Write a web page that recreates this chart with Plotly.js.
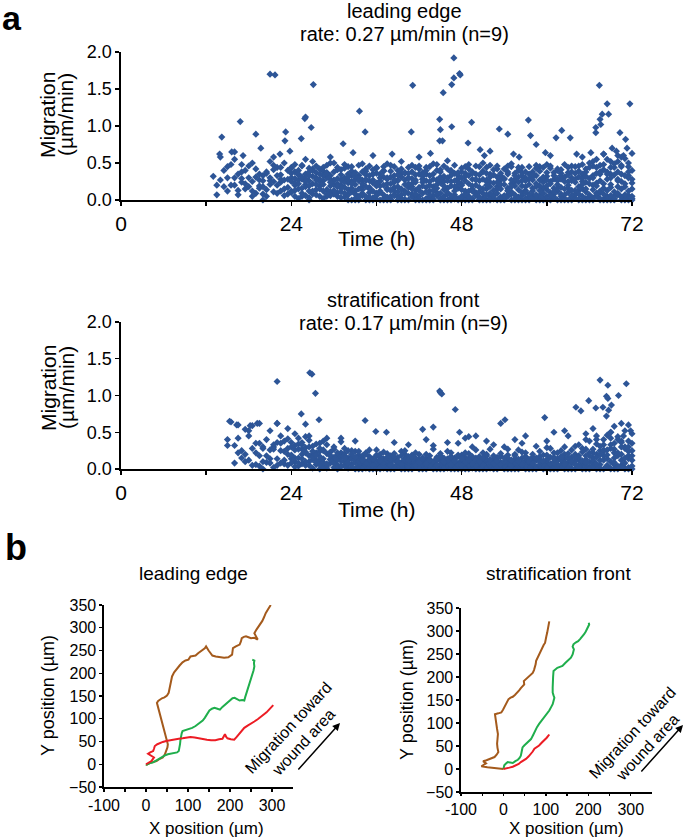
<!DOCTYPE html>
<html><head><meta charset="utf-8">
<script src="https://cdn.plot.ly/plotly-3.0.1.min.js"></script>
<style>html,body{margin:0;padding:0;background:#fff}#chart{width:685px;height:840px}</style>
</head><body><div id="chart"></div>
<script>
// ---------- panel a: time grid (h) ----------
const hours = [13,13.5,14,14.5,15,15.5,16,16.5,17,17.5,
18,18.5,19,19.5,20,20.5,21,21.5,22,22.5,
23,23.5,24,24.5,25,25.5,26,26.5,27,27.5,
28,28.5,29,29.5,30,30.5,31,31.5,32,32.5,
33,33.5,34,34.5,35,35.5,36,36.5,37,37.5,
38,38.5,39,39.5,40,40.5,41,41.5,42,42.5,
43,43.5,44,44.5,45,45.5,46,46.5,47,47.5,
48,48.5,49,49.5,50,50.5,51,51.5,52,52.5,
53,53.5,54,54.5,55,55.5,56,56.5,57,57.5,
58,58.5,59,59.5,60,60.5,61,61.5,62,62.5,
63,63.5,64,64.5,65,65.5,66,66.5,67,67.5,
68,68.5,69,69.5,70,70.5,71,71.5,72];

// leading edge migration (um/min), one row per tracked cell
const lead1 = [0.32,0.07,0.58,0.40,0.45,0.20,0.65,0.35,0.48,0.22,
0.30,0.12,0.42,0.27,0.18,0.38,0.52,0.25,0.33,0.44,
0.15,0.28,0.36,0.48,0.22,0.31,0.55,0.19,0.42,0.27,
0.35,0.12,0.47,0.24,0.38,0.29,0.16,0.43,0.31,0.22,
0.37,0.26,0.49,0.18,0.33,0.41,0.23,0.30,0.45,0.14,
0.39,0.27,0.34,0.52,0.21,0.36,0.29,0.44,0.17,0.32,
0.40,0.25,0.35,0.48,0.28,0.19,0.42,0.33,0.26,0.37,
0.30,0.45,0.22,0.38,0.27,0.34,0.50,0.20,0.31,0.41,
0.24,0.36,0.29,0.46,0.18,0.33,0.40,0.26,0.38,0.21,
0.35,0.43,0.27,0.31,0.48,0.22,0.37,0.29,0.41,0.25,
0.34,0.46,0.28,0.39,0.21,0.32,0.44,0.52,0.36,0.47,
0.41,0.55,0.30,0.49,0.38,0.58,0.33,0.45,0.40];
const lead2 = [null,0.20,0.27,null,0.30,0.48,0.20,0.07,0.29,0.40,
0.18,0.25,0.09,0.35,0.26,0.14,0.30,0.41,0.20,0.12,
0.27,0.40,0.10,0.23,0.34,0.16,0.29,0.38,0.12,0.21,
0.25,0.33,0.08,0.19,0.27,0.44,0.11,0.24,0.35,0.16,
0.21,0.30,0.09,0.26,0.15,0.23,0.36,0.12,0.20,0.28,
0.13,0.24,0.18,0.31,0.09,0.22,0.15,0.27,0.35,0.19,
0.11,0.20,0.28,0.16,0.23,0.32,0.10,0.25,0.18,0.21,
0.14,0.26,0.33,0.12,0.20,0.17,0.28,0.36,0.09,0.23,
0.31,0.15,0.21,0.12,0.27,0.19,0.24,0.33,0.10,0.28,
0.16,0.22,0.13,0.30,0.19,0.25,0.11,0.21,0.17,0.31,
0.20,0.13,0.24,0.18,0.29,0.15,0.22,0.30,0.19,0.26,
0.16,0.28,0.21,0.34,0.18,0.25,0.22,0.30,0.15];
const lead3 = [null,null,null,null,0.12,null,0.55,0.13,0.38,0.15,
0.46,0.05,0.31,0.19,0.08,0.36,0.21,0.11,0.44,0.28,
0.06,0.17,0.25,0.13,0.40,0.09,0.18,0.26,0.32,0.07,
0.15,0.21,0.30,0.06,0.13,0.18,0.27,0.09,0.14,0.33,
0.08,0.15,0.22,0.05,0.17,0.12,0.19,0.25,0.07,0.16,
0.22,0.06,0.11,0.15,0.27,0.09,0.18,0.08,0.13,0.24,
0.17,0.07,0.13,0.21,0.09,0.14,0.26,0.06,0.12,0.16,
0.22,0.08,0.12,0.19,0.06,0.11,0.15,0.07,0.18,0.13,
0.09,0.21,0.06,0.16,0.11,0.07,0.14,0.10,0.18,0.08,
0.12,0.07,0.19,0.09,0.14,0.06,0.16,0.12,0.08,0.15,
0.10,0.06,0.13,0.08,0.15,0.11,0.07,0.14,0.09,0.12,
0.08,0.13,0.06,0.11,0.09,0.15,0.07,0.12,0.05];
const lead4 = [null,null,null,0.18,null,null,0.30,null,0.24,null,
null,0.50,null,0.16,0.33,0.05,0.26,0.58,0.09,0.34,
0.50,0.08,0.44,0.05,0.15,0.28,0.06,0.12,0.22,0.37,
0.05,0.26,0.14,0.33,0.08,0.05,0.20,0.30,0.07,0.11,
0.28,0.05,0.14,0.34,0.04,0.27,0.06,0.10,0.31,0.04,
0.05,0.33,0.04,0.07,0.12,0.30,0.04,0.13,0.05,0.09,
0.26,0.04,0.06,0.10,0.31,0.05,0.08,0.19,0.04,0.29,
0.05,0.12,0.05,0.28,0.10,0.04,0.09,0.25,0.04,0.06,
0.15,0.04,0.28,0.05,0.08,0.25,0.04,0.06,0.13,0.05,
0.27,0.04,0.06,0.16,0.05,0.10,0.04,0.26,0.05,0.07,
0.25,0.04,0.08,0.13,0.05,0.24,0.04,0.20,0.05,0.10,
0.22,0.05,0.17,0.05,0.26,0.04,0.18,0.06,0.23];
const lead5 = [null,null,null,null,null,null,null,null,null,null,
null,null,null,null,null,null,null,0.47,null,0.24,
null,null,0.30,0.20,0.02,0.46,0.35,0.03,0.52,0.14,
0.42,0.02,0.37,0.11,0.50,0.22,0.03,0.17,0.45,0.25,
0.02,0.33,0.18,0.42,0.26,0.03,0.44,0.35,0.02,0.22,
0.47,0.17,0.40,0.02,0.36,0.44,0.22,0.03,0.42,0.37,
0.02,0.45,0.18,0.40,0.02,0.25,0.53,0.03,0.36,0.02,
0.38,0.02,0.42,0.02,0.46,0.26,0.03,0.44,0.24,0.02,
0.42,0.27,0.02,0.38,0.45,0.02,0.31,0.44,0.02,0.35,
0.03,0.33,0.45,0.02,0.37,0.43,0.02,0.40,0.33,0.02,
0.44,0.38,0.02,0.46,0.35,0.02,0.50,0.03,0.44,0.02,
0.48,0.03,0.44,0.02,0.52,0.35,0.03,0.50,0.02];
const lead6 = [null,null,null,null,null,null,null,null,null,null,
null,null,null,null,null,null,null,null,null,null,
null,null,0.12,0.38,0.27,0.05,0.21,0.43,0.08,0.30,
0.19,0.39,0.05,0.28,0.21,0.10,0.41,0.04,0.23,0.39,
0.12,0.04,0.27,0.39,0.10,0.35,0.01,0.19,0.39,0.30,
0.01,0.12,0.26,0.36,0.01,0.17,0.38,0.24,0.01,0.28,
0.35,0.12,0.01,0.27,0.38,0.01,0.16,0.40,0.01,0.33,
0.20,0.36,0.01,0.15,0.35,0.01,0.38,0.15,0.35,0.01,
0.18,0.33,0.01,0.13,0.22,0.36,0.01,0.19,0.30,0.01,
0.38,0.18,0.01,0.24,0.32,0.01,0.28,0.16,0.36,0.01,
0.16,0.30,0.36,0.01,0.25,0.38,0.01,0.33,0.23,0.35,
0.01,0.38,0.35,0.01,0.28,0.45,0.01,0.33,0.28];
const lead7 = [null,null,null,null,null,null,null,null,null,null,
null,null,null,null,0.00,null,null,null,null,null,
null,null,null,null,null,null,null,0.00,null,null,
null,null,null,null,null,null,null,null,0.00,0.00,
0.00,0.00,0.06,0.00,0.00,0.00,0.09,0.00,0.00,0.00,
0.00,0.07,0.00,0.00,0.00,0.00,0.08,0.00,0.00,0.00,
0.00,0.00,0.00,0.06,0.00,0.00,0.00,0.00,0.07,0.00,
0.00,0.00,0.00,0.00,0.08,0.00,0.00,0.00,0.00,0.06,
0.00,0.00,0.00,0.07,0.00,0.00,0.00,0.00,0.00,0.00,
0.06,0.00,0.00,0.00,0.00,0.00,0.08,0.00,0.00,0.00,
0.00,0.00,0.07,0.00,0.00,0.00,0.00,0.00,0.06,0.00,
0.00,0.00,0.00,0.00,0.07,0.00,0.00,0.00,0.00];
const lead8 = [null,null,null,null,null,null,null,null,null,null,
null,null,null,null,null,null,null,null,null,null,
null,null,0.43,0.29,0.35,0.47,0.25,0.33,0.40,0.46,
0.28,0.44,0.36,0.50,0.26,0.41,0.34,0.48,0.27,0.45,
0.32,0.47,0.38,0.28,0.46,0.35,0.43,0.26,0.40,0.49,
0.31,0.45,0.27,0.42,0.37,0.29,0.47,0.34,0.46,0.28,
0.44,0.33,0.49,0.27,0.41,0.46,0.30,0.38,0.47,0.25,
0.43,0.32,0.48,0.36,0.28,0.45,0.39,0.27,0.47,0.34,
0.46,0.30,0.42,0.35,0.49,0.28,0.44,0.37,0.26,0.45,
0.31,0.47,0.39,0.44,0.27,0.46,0.33,0.42,0.28,0.48,
0.37,0.26,0.45,0.31,0.48,0.42,0.29,0.46,0.55,0.38,
0.62,0.35,0.52,0.44,0.60,0.47,0.56,0.38,0.63];
const leadOutT = [14.2,16.8,19.0,19.7,21.0,21.7,23.1,23.2,25.4,25.9,26.0,26.8,27.1,31.3,32.7,33.6,34.4,40.9,41.1,44.9,44.9,45.0,45.3,45.4,46.6,46.6,46.9,46.9,47.7,47.8,48.9,49.4,50.6,53.3,54.5,57.4,57.7,58.5,61.3,62.1,63.3,66.9,66.9,67.4,67.5,67.6,67.8,68.5,68.7,69.2,70.3,71.1,71.3,71.7];
const leadOutV = [0.85,1.06,0.89,0.70,1.70,1.69,0.80,0.92,0.83,1.10,1.12,0.98,1.56,0.76,0.64,1.20,0.92,0.92,1.55,1.09,0.80,0.95,0.80,1.45,0.99,1.56,1.92,1.65,1.71,1.69,0.77,1.05,0.68,0.96,0.89,1.08,0.87,0.75,0.84,0.94,0.84,0.91,0.98,1.55,1.09,1.02,1.16,1.30,1.16,0.70,0.91,0.82,0.70,1.30];
const leadMidT = [13.9,15.6,17.2,22.4,23.8,29.5,35.5,38.2,42.0,43.6,51.2,52.0,55.3,56.1,59.8,60.5,64.2,65.0,66.2,68.0,69.8,70.8];
const leadMidV = [0.62,0.65,0.60,0.62,0.66,0.58,0.60,0.62,0.58,0.63,0.60,0.66,0.62,0.58,0.64,0.60,0.62,0.58,0.64,0.62,0.66,0.60];

// stratification front migration (um/min)
const strat1 = [null,null,null,null,0.40,0.64,0.32,0.60,0.25,0.54,
0.45,0.59,0.22,0.62,0.30,0.18,0.52,0.27,0.62,0.35,
0.24,0.41,0.30,0.48,0.27,0.36,0.22,0.45,0.31,0.19,
0.35,0.26,0.42,0.18,0.30,0.22,0.37,0.15,0.25,0.20,
0.16,0.24,0.12,0.20,0.26,0.14,0.19,0.11,0.23,0.16,
0.13,0.21,0.10,0.18,0.25,0.12,0.17,0.22,0.09,0.15,
0.20,0.12,0.27,0.14,0.18,0.10,0.24,0.16,0.11,0.19,
0.14,0.22,0.12,0.17,0.26,0.10,0.15,0.20,0.13,0.18,
0.11,0.21,0.15,0.27,0.12,0.18,0.10,0.23,0.16,0.13,
0.20,0.15,0.24,0.11,0.19,0.28,0.14,0.22,0.17,0.30,
0.21,0.26,0.16,0.33,0.23,0.18,0.38,0.27,0.45,0.31,
0.40,0.26,0.50,0.35,0.44,0.30,0.52,0.38,0.48];
const strat2 = [null,null,null,null,0.32,null,0.08,0.42,0.15,0.20,
0.12,0.28,0.06,0.18,0.10,0.40,0.08,0.33,0.14,0.25,
0.12,0.20,0.08,0.26,0.15,0.33,0.10,0.18,0.24,0.12,
0.17,0.09,0.21,0.13,0.08,0.16,0.11,0.21,0.07,0.14,
0.09,0.07,0.15,0.10,0.06,0.13,0.08,0.17,0.05,0.10,
0.07,0.12,0.06,0.09,0.14,0.05,0.11,0.07,0.13,0.06,
0.10,0.05,0.08,0.12,0.06,0.15,0.07,0.09,0.13,0.05,
0.08,0.11,0.06,0.09,0.05,0.13,0.07,0.10,0.06,0.12,
0.06,0.09,0.05,0.11,0.07,0.13,0.06,0.09,0.05,0.10,
0.07,0.12,0.06,0.09,0.13,0.07,0.10,0.06,0.12,0.08,
0.14,0.08,0.11,0.18,0.09,0.13,0.22,0.10,0.16,0.25,
0.12,0.19,0.28,0.15,0.22,0.12,0.30,0.18,0.25];
const strat3 = [null,null,null,null,null,null,null,0.22,null,0.10,
0.52,null,0.35,0.04,0.28,0.09,0.26,0.02,0.36,0.08,
0.38,0.05,0.18,0.10,0.42,0.07,0.29,0.05,0.20,0.34,
0.06,0.25,0.04,0.13,0.27,0.05,0.16,0.04,0.12,0.06,
0.11,0.04,0.09,0.22,0.03,0.07,0.18,0.03,0.09,0.04,
0.18,0.03,0.08,0.04,0.20,0.03,0.06,0.15,0.03,0.08,
0.04,0.18,0.03,0.06,0.21,0.03,0.05,0.17,0.03,0.08,
0.19,0.03,0.05,0.14,0.03,0.07,0.22,0.03,0.04,0.09,
0.03,0.17,0.04,0.07,0.03,0.20,0.04,0.15,0.03,0.06,
0.16,0.03,0.05,0.19,0.03,0.06,0.22,0.03,0.05,0.14,
0.04,0.16,0.06,0.03,0.28,0.05,0.09,0.04,0.20,0.06,
0.33,0.05,0.10,0.22,0.04,0.36,0.08,0.14,0.04];
const strat4 = [null,null,null,null,null,null,null,null,null,null,
null,0.05,null,0.35,null,null,0.14,0.30,0.05,0.45,
0.07,0.28,0.14,0.03,0.34,0.20,0.05,0.39,0.13,0.06,
0.24,0.03,0.33,0.08,0.02,0.19,0.03,0.28,0.15,0.02,
0.24,0.13,0.02,0.05,0.12,0.02,0.26,0.05,0.14,0.02,
0.05,0.14,0.02,0.24,0.08,0.02,0.13,0.02,0.20,0.02,
0.14,0.02,0.32,0.02,0.11,0.02,0.14,0.02,0.07,0.35,
0.02,0.16,0.02,0.30,0.09,0.02,0.12,0.02,0.27,0.02,
0.16,0.02,0.30,0.02,0.10,0.02,0.26,0.02,0.11,0.02,
0.05,0.02,0.13,0.02,0.29,0.02,0.04,0.14,0.02,0.20,
0.02,0.11,0.31,0.02,0.07,0.40,0.02,0.22,0.02,0.12,
0.24,0.02,0.42,0.06,0.18,0.02,0.28,0.02,0.35];
const strat5 = [null,null,null,null,null,null,null,null,null,null,
null,null,null,null,null,null,null,null,null,null,
null,null,0.36,0.15,0.04,0.27,0.44,0.10,0.01,0.22,
0.12,0.38,0.01,0.18,0.09,0.01,0.22,0.10,0.01,0.17,
0.01,0.19,0.06,0.01,0.17,0.10,0.01,0.13,0.01,0.21,
0.10,0.01,0.16,0.01,0.07,0.17,0.01,0.10,0.01,0.15,
0.01,0.08,0.01,0.16,0.01,0.10,0.01,0.22,0.15,0.01,
0.11,0.01,0.21,0.01,0.15,0.01,0.09,0.18,0.01,0.14,
0.01,0.08,0.01,0.19,0.01,0.14,0.01,0.08,0.22,0.01,
0.11,0.01,0.17,0.01,0.09,0.01,0.16,0.01,0.25,0.01,
0.09,0.01,0.20,0.12,0.01,0.27,0.01,0.15,0.34,0.01,
0.18,0.46,0.01,0.27,0.01,0.38,0.01,0.24,0.12];
const strat6 = [null,null,null,null,null,null,null,null,null,null,
null,null,null,null,0.00,null,null,null,null,null,
null,null,null,null,null,null,null,null,null,null,
0.00,null,null,null,null,0.00,null,null,null,null,
0.00,0.00,0.00,0.04,0.00,0.00,0.00,0.00,0.05,0.00,
0.00,0.00,0.04,0.00,0.00,0.00,0.00,0.05,0.00,0.00,
0.00,0.04,0.00,0.00,0.00,0.00,0.05,0.00,0.00,0.00,
0.00,0.00,0.00,0.04,0.00,0.00,0.00,0.00,0.05,0.00,
0.00,0.04,0.00,0.00,0.00,0.00,0.00,0.05,0.00,0.00,
0.00,0.00,0.04,0.00,0.00,0.00,0.00,0.00,0.05,0.00,
0.00,0.00,0.00,0.04,0.00,0.00,0.00,0.05,0.00,0.00,
0.00,0.04,0.00,0.00,0.00,0.05,0.00,0.00,0.00];
const strat7 = [null,null,null,null,null,null,null,null,null,null,
null,null,null,null,null,null,null,null,null,null,
null,null,0.19,0.32,0.08,0.14,0.23,0.30,0.16,0.09,
0.28,0.14,0.07,0.23,0.16,0.12,0.05,0.18,0.09,0.25,
0.14,0.10,0.18,0.08,0.13,0.05,0.11,0.20,0.09,0.12,
0.05,0.16,0.11,0.06,0.12,0.09,0.19,0.05,0.11,0.13,
0.07,0.13,0.10,0.05,0.16,0.08,0.12,0.06,0.10,0.17,
0.05,0.09,0.14,0.07,0.12,0.17,0.05,0.13,0.10,0.07,
0.14,0.06,0.10,0.15,0.05,0.09,0.13,0.06,0.17,0.11,
0.08,0.14,0.10,0.06,0.12,0.16,0.08,0.11,0.14,0.06,
0.16,0.10,0.07,0.15,0.11,0.09,0.18,0.12,0.07,0.20,
0.26,0.14,0.33,0.09,0.40,0.20,0.15,0.30,0.18];
const stratOutT = [15.3,16.3,18.2,19.2,22.0,22.0,23.5,25.4,26.0,26.6,26.9,27.4,27.9,34.4,35.9,37.4,42.5,44.0,44.9,45.0,45.2,47.1,47.7,49.0,50.0,53.5,54.1,57.0,59.7,61.0,62.5,64.1,64.8,65.9,66.9,67.5,67.9,68.4,68.4,68.6,68.6,68.7,69.1,69.5,70.1,70.5,71.2,71.8];
const stratOutV = [0.65,0.60,0.59,0.62,1.19,0.62,0.55,0.75,0.61,1.31,1.29,1.03,0.67,0.66,0.51,0.50,0.54,0.57,1.06,1.04,1.02,0.81,0.50,0.44,0.45,0.62,0.67,0.45,0.70,0.50,0.52,0.84,0.79,0.93,0.83,1.21,0.84,0.99,0.72,1.14,0.96,0.80,0.87,0.58,1.00,0.62,1.16,0.52];
const stratMidT = [31.0,33.0,38.5,40.5,43.0,46.0,48.5,51.5,52.5,55.5,56.5,58.5,60.0,63.0,65.5,66.5,69.0,70.8,71.5,67.0];
const stratMidV = [0.42,0.38,0.36,0.33,0.40,0.36,0.42,0.38,0.33,0.40,0.35,0.31,0.38,0.45,0.48,0.55,0.50,0.45,0.60,0.40];

// ---------- panel b: trajectories (um) ----------
const leadBrownX = [0,2,10,18,25,33,40,45,48,51,52,50,48,45,42,41,39,37,34,33,31,28,26,29,33,38,44,50,54,56,58,60,62,67,73,80,87,94,101,104,106,112,118,124,130,135,140,143,146,149,153,158,166,176,186,196,201,205,206,207,214,223,226,228,233,238,244,250,258,266,262,258,263,269,273,277,281,285,291,297];
const leadBrownY = [0,-1,3,5,7,12,15,22,29,37,44,51,58,66,73,80,88,95,102,110,117,126,135,139,142,145,147,151,157,166,175,184,193,202,210,217,224,228,230,235,237,238,239,244,248,252,255,259,253,250,245,239,237,236,234,235,238,241,248,255,259,263,270,277,280,281,279,277,278,274,281,288,296,303,309,315,323,332,341,350];
const leadGreenX = [0,2,8,17,26,36,44,52,60,68,74,78,80,81,82,83,85,87,94,102,110,118,124,130,135,140,146,151,157,163,170,176,182,188,194,200,206,211,217,223,229,234,236,238,241,244,246,248,251,254,256,258,257,258,253];
const leadGreenY = [0,-1,2,4,9,15,19,22,23,24,26,29,36,44,53,62,68,73,75,77,80,84,88,91,96,102,110,118,122,124,122,120,126,131,137,142,145,146,142,140,141,140,147,153,163,172,178,184,190,197,206,215,222,228,230];
const leadRedX = [0,6,13,19,12,5,10,17,19,21,27,33,40,48,58,68,78,87,96,106,116,126,136,145,155,165,174,182,185,188,191,194,202,210,216,223,228,234,242,250,258,266,274,281,287,293,298,303];
const leadRedY = [0,3,7,15,19,23,26,29,34,40,44,47,49,51,53,55,56,57,59,60,59,57,55,54,53,53,55,56,61,66,60,57,55,54,60,67,74,80,85,89,94,99,104,109,114,120,125,130];
const stratBrownX = [0,-12,-25,-38,-52,-46,-41,-45,-48,-40,-33,-27,-21,-16,-12,-14,-15,-14,-13,-15,-17,-18,-20,-12,-5,-1,2,6,9,12,17,22,27,32,37,41,45,49,48,53,59,64,69,72,74,76,77,80,82,85,88,90,92,95,98,99,101,103,104,106,108];
const stratBrownY = [0,1,2,4,6,9,12,15,17,19,21,24,26,31,37,46,55,65,76,87,98,108,119,121,123,129,134,142,147,152,155,157,161,165,171,176,180,184,191,195,199,204,209,215,220,228,235,241,247,251,256,261,265,270,274,281,288,296,303,312,321];
const stratGreenX = [0,2,6,10,16,22,28,34,38,41,43,45,49,53,59,65,70,74,79,84,90,96,102,108,112,116,118,120,118,116,116,116,117,118,122,127,133,139,145,151,155,159,163,164,166,163,165,170,176,181,186,190,194,197,199,202,201];
const stratGreenY = [0,8,12,15,14,13,17,20,24,29,38,47,51,55,60,65,74,83,91,98,105,112,120,127,134,141,148,155,160,166,177,188,200,213,217,220,222,224,230,235,239,242,249,254,260,266,271,275,278,283,288,293,299,305,310,314,318];
const stratRedX = [0,7,14,22,30,36,41,47,53,59,65,69,73,78,84,90,96,102,108];
const stratRedY = [0,1,3,5,8,11,15,18,22,27,33,38,44,47,51,57,62,68,75];

// ---------- build ----------
const W = 685, H = 840;
const fx = x => x / W, fy = y => 1 - y / H;
const FONT = 'Liberation Sans, Arial, Helvetica, sans-serif';
const DOT = '#2d5597';

function collect(rows, extras) {
  const x = [], y = [];
  rows.forEach(r => r.forEach((v, i) => { if (v !== null) { x.push(hours[i]); y.push(v); } }));
  extras.forEach(([T, V]) => T.forEach((t, i) => { x.push(t); y.push(V[i]); }));
  return {x, y};
}
const leadPts = collect([lead7, lead6, lead5, lead4, lead3, lead2, lead8, lead1], [[leadMidT, leadMidV], [leadOutT, leadOutV]]);
const stratPts = collect([strat6, strat5, strat4, strat3, strat2, strat7, strat1], [[stratMidT, stratMidV], [stratOutT, stratOutV]]);

const dotTrace = (p, xa, ya) => ({type: 'scatter', mode: 'markers', x: p.x, y: p.y, xaxis: xa, yaxis: ya,
  cliponaxis: false, hoverinfo: 'skip',
  marker: {symbol: 'diamond', size: 5.5, color: DOT, line: {width: 0}}});
const pathTrace = (x, y, color, xa, ya) => ({type: 'scatter', mode: 'lines', x, y, xaxis: xa, yaxis: ya,
  hoverinfo: 'skip', line: {color, width: 2}});

const BROWN = '#a45a1c', GREEN = '#1fae4c', RED = '#ec1c24';
const data = [
  dotTrace(leadPts, 'x', 'y'),
  dotTrace(stratPts, 'x2', 'y2'),
  pathTrace(leadBrownX, leadBrownY, BROWN, 'x3', 'y3'),
  pathTrace(leadGreenX, leadGreenY, GREEN, 'x3', 'y3'),
  pathTrace(leadRedX, leadRedY, RED, 'x3', 'y3'),
  pathTrace(stratBrownX, stratBrownY, BROWN, 'x4', 'y4'),
  pathTrace(stratGreenX, stratGreenY, GREEN, 'x4', 'y4'),
  pathTrace(stratRedX, stratRedY, RED, 'x4', 'y4')
];

const base = {showline: true, linecolor: '#000', linewidth: 1.6, ticks: 'outside', ticklen: 4, tickwidth: 1.4,
  tickcolor: '#000', showgrid: false, zeroline: false, fixedrange: true, tickfont: {family: FONT, color: '#000'}};
const timeTicks = [0, 12, 24, 36, 48, 60, 72];
const timeText = ['0', '', '24', '', '48', '', '72'];
const migTicks = [0, 0.5, 1, 1.5, 2];
const migText = ['0.0', '0.5', '1.0', '1.5', '2.0'];
const posXTicks = [-100, -50, 0, 50, 100, 150, 200, 250, 300];
const posXText = ['-100', '', '0', '', '100', '', '200', '', '300'];
const posYTicks = [-50, 0, 50, 100, 150, 200, 250, 300, 350];

const xa = (dom, anchor, extra) => Object.assign({}, base, {domain: dom, anchor}, extra, {tickfont: Object.assign({}, base.tickfont, extra.tickfont)});
const layout = {
  width: W, height: H, margin: {l: 0, r: 0, t: 0, b: 0}, paper_bgcolor: '#fff', plot_bgcolor: 'rgba(0,0,0,0)',
  showlegend: false, font: {family: FONT, color: '#000'},
  xaxis: xa([fx(121), fx(632)], 'y', {range: [0, 72], tickvals: timeTicks, ticktext: timeText, tickfont: {size: 21}}),
  yaxis: xa([fy(200), fy(52)], 'x', {range: [0, 2], tickvals: migTicks, ticktext: migText, tickfont: {size: 18}}),
  xaxis2: xa([fx(121), fx(632)], 'y2', {range: [0, 72], tickvals: timeTicks, ticktext: timeText, tickfont: {size: 21}}),
  yaxis2: xa([fy(469), fy(322)], 'x2', {range: [0, 2], tickvals: migTicks, ticktext: migText, tickfont: {size: 18}}),
  xaxis3: xa([fx(104), fx(293)], 'y3', {range: [-100, 350], tickvals: posXTicks, ticktext: posXText, ticklen: 3, tickfont: {size: 16}}),
  yaxis3: xa([fy(787), fy(605)], 'x3', {range: [-50, 350], tickvals: posYTicks, ticklen: 3, tickfont: {size: 16}}),
  xaxis4: xa([fx(461), fx(652)], 'y4', {range: [-100, 350], tickvals: posXTicks, ticktext: posXText, ticklen: 2, tickfont: {size: 16}}),
  yaxis4: xa([fy(792), fy(608)], 'x4', {range: [-50, 350], tickvals: posYTicks, ticklen: 3, tickfont: {size: 16}})
};

const ann = (text, x, y, size, o) => Object.assign({text, x: fx(x), y: fy(y), xref: 'paper', yref: 'paper',
  showarrow: false, xanchor: 'center', yanchor: 'middle', borderpad: 0, font: {family: FONT, size, color: '#000'}}, o || {});
const arrow = (x0, y0, x1, y1) => ({text: '', x: fx(x1), y: fy(y1), xref: 'paper', yref: 'paper', showarrow: true,
  ax: x0 - x1, ay: y0 - y1, arrowhead: 2, arrowsize: 1, arrowwidth: 1.5, arrowcolor: '#000'});

layout.annotations = [
  ann('<b>a</b>', 12, 18, 34),
  ann('<b>b</b>', 16, 547, 36),
  ann('leading edge', 404, 11, 20),
  ann('rate: 0.27 µm/min (n=9)', 404, 34, 20),
  ann('stratification front', 403, 300, 20),
  ann('rate: 0.17 µm/min (n=9)', 403, 323, 20),
  ann('Migration', 48, 115, 21, {textangle: -90}),
  ann('(µm/min)', 66, 115, 21, {textangle: -90}),
  ann('Migration', 48, 388, 21, {textangle: -90}),
  ann('(µm/min)', 66, 388, 21, {textangle: -90}),
  ann('Time (h)', 376, 238, 21),
  ann('Time (h)', 376, 510, 21),
  ann('leading edge', 193, 573, 19),
  ann('stratification front', 558, 573, 19),
  ann('Y position (µm)', 48, 696, 18, {textangle: -90}),
  ann('Y position (µm)', 407, 700, 18, {textangle: -90}),
  ann('X position (µm)', 206, 828, 17),
  ann('X position (µm)', 566, 828, 17),
  ann('Migration toward<br>wound area', 296, 735, 16, {textangle: -47}),
  ann('Migration toward<br>wound area', 640, 740, 16, {textangle: -47}),
  arrow(297, 771, 340, 723),
  arrow(640, 773, 683, 725)
];

Plotly.newPlot('chart', data, layout, {staticPlot: true, displayModeBar: false});
</script></body></html>
